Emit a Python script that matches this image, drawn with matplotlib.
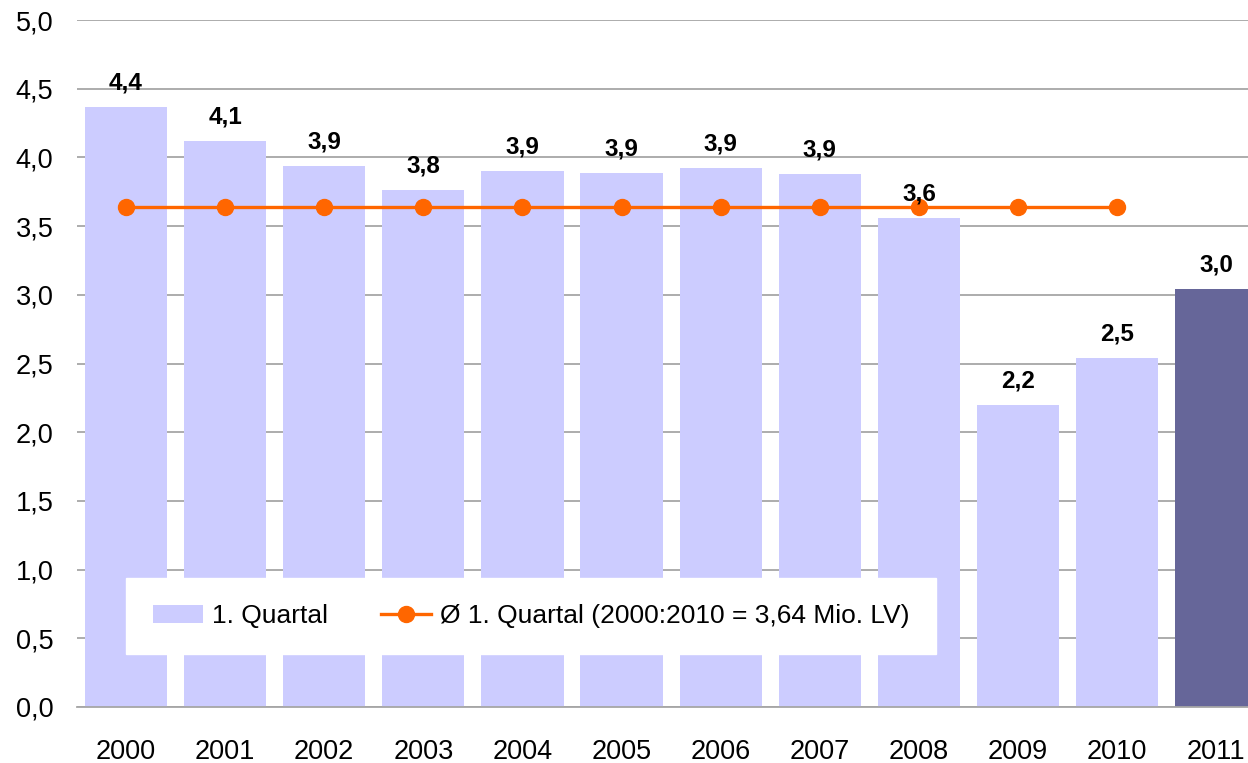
import matplotlib.pyplot as plt
from matplotlib.ticker import FuncFormatter

plt.rcParams['font.family'] = ['Liberation Sans', 'DejaVu Sans']

# 1. Quartal, Mio. LV
jahre = ['2000', '2001', '2002', '2003', '2004', '2005', '2006', '2007',
         '2008', '2009', '2010', '2011']
werte = [4.37, 4.12, 3.94, 3.76, 3.90, 3.89, 3.92, 3.88, 3.56, 2.20, 2.54, 3.04]
durchschnitt = 3.64
durchschnitt_jahre = jahre[:11]

farben = ['#CCCCFF'] * 11 + ['#666699']

fig = plt.figure(figsize=(12.48, 7.63), dpi=100)
ax = fig.add_axes([77 / 1248, 56 / 763, 1171 / 1248, 687 / 763])

x = range(len(jahre))
bars = ax.bar(x, werte, width=0.83, color=farben, zorder=2, label='1. Quartal')
linie, = ax.plot(range(len(durchschnitt_jahre)), [durchschnitt] * len(durchschnitt_jahre),
                 color='#FF6600', lw=2.4, marker='o', ms=11.5, zorder=3,
                 label='Ø 1. Quartal (2000:2010 = 3,64 Mio. LV)')

for i, w in enumerate(werte):
    ax.annotate('{:.1f}'.format(w).replace('.', ','), (i, w),
                xytext=(0, 9), textcoords='offset points', ha='center',
                va='bottom', fontsize=17.5, fontweight='bold', zorder=5)

ax.set_ylim(0, 5)
ax.set_xlim(-0.494, 11.32)
ax.set_yticks([i * 0.5 for i in range(11)])
ax.yaxis.set_major_formatter(FuncFormatter(lambda v, p: '{:.1f}'.format(v).replace('.', ',')))
ax.set_xticks(list(x))
ax.set_xticklabels(jahre)
ax.tick_params(axis='y', length=0, pad=17, labelsize=19.5)
ax.tick_params(axis='x', length=0, pad=23, labelsize=19.5)
ax.grid(axis='y', color='#A6A6A6', lw=1.3, zorder=0)
ax.set_axisbelow(True)
for s in ['top', 'right', 'left']:
    ax.spines[s].set_visible(False)
ax.spines['bottom'].set_color('#A6A6A6')
ax.spines['bottom'].set_linewidth(1.3)

leg = ax.legend(handles=[bars, linie], loc='center', bbox_to_anchor=(0.388, 0.1325),
                ncol=2, fontsize=19, frameon=True, fancybox=False, framealpha=1,
                edgecolor='white', borderpad=1.0, borderaxespad=0, handlelength=1.9,
                columnspacing=2.0, handletextpad=0.35)
leg.set_zorder(4)
leg._legend_box.sep = 0

fig.savefig('out.png', dpi=100)
